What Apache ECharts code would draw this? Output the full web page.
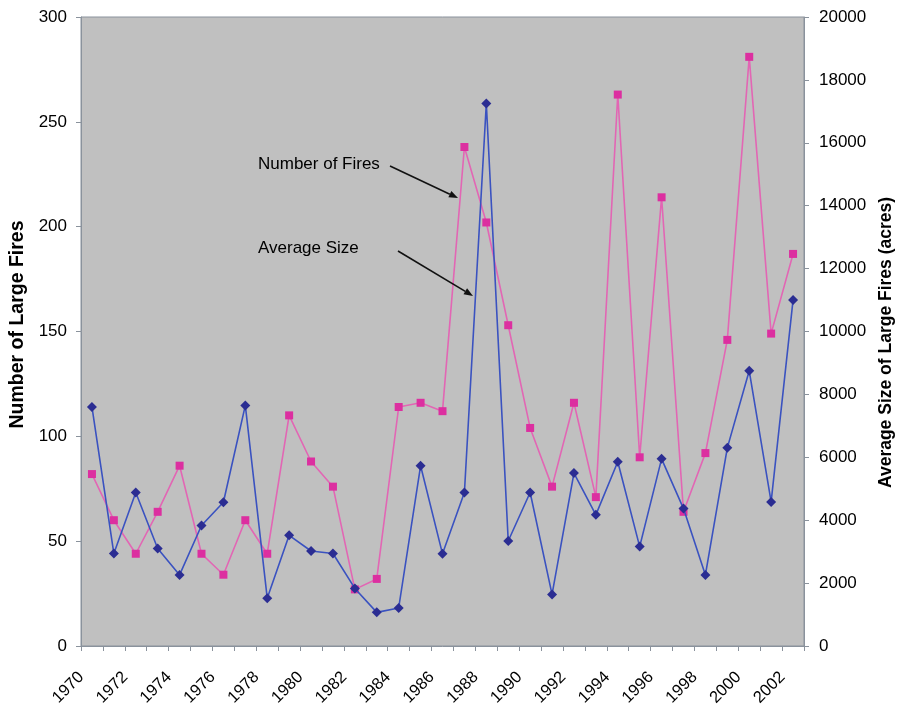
<!DOCTYPE html>
<html>
<head>
<meta charset="utf-8">
<script src="https://cdn.jsdelivr.net/npm/echarts@6/dist/echarts.min.js"></script>
<style>
  html, body { margin: 0; padding: 0; background: #fff; }
  #myChart { width: 897px; height: 706px; }
</style>
</head>
<body>
<div id="myChart"></div>
<script>
// years on the x axis
const years = ['1970', '1971', '1972', '1973', '1974', '1975', '1976', '1977', '1978', '1979',
  '1980', '1981', '1982', '1983', '1984', '1985', '1986', '1987', '1988', '1989',
  '1990', '1991', '1992', '1993', '1994', '1995', '1996', '1997', '1998', '1999',
  '2000', '2001', '2002'];

// number of large fires (left axis)
const numFires = [82, 60, 44, 64, 86, 44, 34, 60, 44, 110,
  88, 76, 27, 32, 114, 116, 112, 238, 202, 153,
  104, 76, 116, 71, 263, 90, 214, 64, 92, 146,
  281, 149, 187];

// average size of large fires, acres (right axis)
const avgSize = [7600, 2940, 4880, 3100, 2260, 3830, 4570, 7650, 1520, 3520,
  3020, 2940, 1830, 1070, 1210, 5730, 2930, 4880, 17250, 3340,
  4880, 1640, 5500, 4170, 5860, 3160, 5950, 4370, 2260, 6300,
  8750, 4580, 11000];

const leftTicks = { min: 0, max: 300, interval: 50 };
const rightTicks = { min: 0, max: 20000, interval: 2000 };

const font = '"Liberation Sans", Arial, sans-serif';
const axisGrey = '#8a929c';

// black arrow made of a line and a small head
function arrow(x1, y1, x2, y2) {
  const a = Math.atan2(y2 - y1, x2 - x1);
  const len = 9, w = 3.5;
  const bx = x2 - len * Math.cos(a), by = y2 - len * Math.sin(a);
  return [
    { type: 'line', z: 100, shape: { x1: x1, y1: y1, x2: bx, y2: by }, style: { stroke: '#111', lineWidth: 1.6 } },
    {
      type: 'polygon', z: 100,
      shape: { points: [[x2, y2], [bx + w * Math.sin(a), by - w * Math.cos(a)], [bx - w * Math.sin(a), by + w * Math.cos(a)]] },
      style: { fill: '#111' }
    }
  ];
}

const setOption = () => {
  return {
    animation: false,
    backgroundColor: '#fff',
    textStyle: { fontFamily: font },
    grid: {
      left: 81,
      right: 93,
      top: 17,
      bottom: 60,
      outerBoundsMode: 'none',
      show: true,
      backgroundColor: '#c0c0c0',
      borderColor: axisGrey,
      borderWidth: 1
    },
    xAxis: {
      type: 'category',
      data: years,
      boundaryGap: true,
      axisLine: { show: true, lineStyle: { color: axisGrey, width: 1 } },
      axisTick: { show: true, interval: 0, length: 5, lineStyle: { color: axisGrey } },
      axisLabel: {
        interval: 1,
        rotate: 45,
        margin: 18,
        padding: [0, 15, 0, 0],
        fontSize: 16.5,
        color: '#000',
        fontFamily: font
      },
      splitLine: { show: false }
    },
    yAxis: [
      {
        type: 'value',
        min: leftTicks.min,
        max: leftTicks.max,
        interval: leftTicks.interval,
        name: 'Number of Large Fires',
        nameLocation: 'middle',
        nameGap: 53,
        nameTextStyle: { fontSize: 19.5, fontWeight: 'bold', color: '#000', fontFamily: font, padding: [0, 0, 0, 14] },
        axisLine: { show: true, lineStyle: { color: axisGrey } },
        axisTick: { show: true, length: 5, lineStyle: { color: axisGrey } },
        axisLabel: { margin: 14, fontSize: 17, color: '#000', fontFamily: font },
        splitLine: { show: false }
      },
      {
        type: 'value',
        min: rightTicks.min,
        max: rightTicks.max,
        interval: rightTicks.interval,
        name: 'Average Size of Large Fires (acres)',
        nameLocation: 'middle',
        nameGap: 73,
        nameRotate: 90,
        nameTextStyle: { fontSize: 17.5, fontWeight: 'bold', color: '#000', fontFamily: font, padding: [0, 22, 0, 0] },
        axisLine: { show: true, lineStyle: { color: axisGrey } },
        axisTick: { show: true, length: 5, lineStyle: { color: axisGrey } },
        axisLabel: { margin: 15, fontSize: 17, color: '#000', fontFamily: font, formatter: (v) => String(v) },
        splitLine: { show: false }
      }
    ],
    graphic: [
      { type: 'text', z: 100, style: { text: 'Number of Fires', x: 258, y: 164, fontSize: 17, fontFamily: font, fill: '#000', verticalAlign: 'middle' } },
      { type: 'text', z: 100, style: { text: 'Average Size', x: 258, y: 248, fontSize: 17, fontFamily: font, fill: '#000', verticalAlign: 'middle' } },
      ...arrow(390, 166, 458, 198),
      ...arrow(398, 251, 473, 296)
    ],
    series: [
      {
        name: 'Average Size',
        type: 'line',
        yAxisIndex: 1,
        data: avgSize,
        symbol: 'diamond',
        symbolSize: 10,
        lineStyle: { color: '#3a52c0', width: 1.6 },
        itemStyle: { color: '#2b2d92' },
        z: 3
      },
      {
        name: 'Number of Fires',
        type: 'line',
        yAxisIndex: 0,
        data: numFires,
        symbol: 'rect',
        symbolSize: 8,
        lineStyle: { color: '#e266b4', width: 1.6 },
        itemStyle: { color: '#dc2fa0' },
        z: 2
      }
    ]
  };
};

const myChart = echarts.init(document.getElementById('myChart'), null, { renderer: 'canvas' });
myChart.setOption(setOption());
</script>
</body>
</html>
